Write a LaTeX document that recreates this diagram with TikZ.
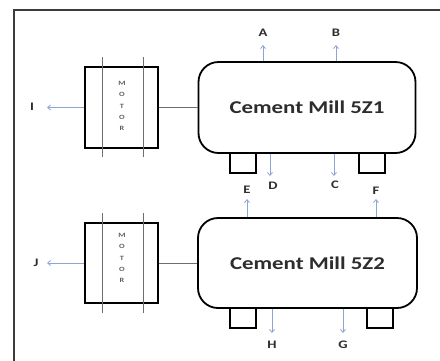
\documentclass[tikz,border=0pt]{standalone}
\usepackage{fontspec}
\setmainfont{Carlito}
\usetikzlibrary{arrows.meta,calc}
\definecolor{flowc}{RGB}{140,165,210}
\definecolor{framec}{RGB}{60,60,60}
\definecolor{lblc}{RGB}{45,45,45}
\definecolor{connc}{RGB}{110,110,110}
\newcommand{\wide}[1]{\scalebox{1.27}[1]{#1}}
\tikzset{
  mill/.style={draw=black,line width=1.8pt,rounded corners=20pt,minimum width=217pt,minimum height=91pt,inner sep=0pt,font=\bfseries\fontsize{18}{22}\selectfont,text=lblc},
  motorbox/.style={draw=black,line width=1.8pt,minimum width=73pt,minimum height=81pt,inner sep=0pt},
  motorbar/.style={draw=connc,line width=1pt},
  motortxt/.style={font=\bfseries\fontsize{6.5}{11.3}\selectfont,text={rgb,255:red,95;green,95;blue,95},align=center,inner sep=0pt},
  foot/.style={draw=black,line width=1.8pt},
  conn/.style={draw=connc,line width=1pt},
  flow/.style={draw=flowc,line width=0.8pt,-{Straight Barb[length=3pt,width=5pt]}},
  lbl/.style={font=\bfseries\fontsize{11.5}{14}\selectfont,text=lblc,inner sep=1pt},
}
\begin{document}
\begin{tikzpicture}[x=1pt,y=-1pt]
\useasboundingbox (0,0) rectangle (440,360);
% frame
\draw[framec,line width=1.5pt] (14,362) -- (14,10) -- (442,10);

% ---- Unit 1 ----
\node[mill] (mill1) at (307,107.5) {\wide{Cement Mill 5Z1}};
\node[motorbox] (motor1) at (121.5,107.5) {};
\node[motortxt] (mt1) at (122,106) {\wide{M}\\\wide{O}\\\wide{T}\\\wide{O}\\\wide{R}};
\draw[motorbar] (102,57) -- (102,157);
\draw[motorbar] (143,57) -- (143,157);
\draw[conn] (motor1.east) -- (mill1.west);
\draw[foot] (230,153) rectangle (256,173);
\draw[foot] (359,153) rectangle (385,173);

\node[lbl] (lI) at (32,107) {\wide{I}};
\coordinate (eI) at (47,107.5);
\draw[flow] (motor1.west) -- (eI);

\node[lbl] (lA) at (263,33) {\wide{A}};
\coordinate (eA) at (263,45);
\draw[flow] (eA |- mill1.north) -- (eA);
\node[lbl] (lB) at (336,33) {\wide{B}};
\coordinate (eB) at (336,45);
\draw[flow] (eB |- mill1.north) -- (eB);

\node[lbl] (lD) at (273,186) {\wide{D}};
\coordinate (eD) at (270,176);
\draw[flow] (eD |- mill1.south) -- (eD);
\node[lbl] (lC) at (335,185) {\wide{C}};
\coordinate (eC) at (334,176);
\draw[flow] (eC |- mill1.south) -- (eC);

% ---- Unit 2 ----
\node[mill,minimum width=219pt,minimum height=90pt] (mill2) at (307.5,263) {\wide{Cement Mill 5Z2}};
\node[motorbox,minimum height=80pt] (motor2) at (121.5,263) {};
\node[motortxt] (mt2) at (122,258) {\wide{M}\\\wide{O}\\\wide{T}\\\wide{O}\\\wide{R}};
\draw[motorbar] (102,213) -- (102,313);
\draw[motorbar] (143,213) -- (143,313);
\draw[conn] (motor2.east) -- (mill2.west);
\draw[foot] (230,308) rectangle (256,328);
\draw[foot] (367,308) rectangle (393,328);

\node[lbl] (lJ) at (36,263) {\wide{J}};
\coordinate (eJ) at (47,263);
\draw[flow] (motor2.west) -- (eJ);

\node[lbl] (lE) at (247,190) {\wide{E}};
\coordinate (eE) at (247,199);
\draw[flow] (eE |- mill2.north) -- (eE);
\node[lbl] (lF) at (376,191) {\wide{F}};
\coordinate (eF) at (376,199);
\draw[flow] (eF |- mill2.north) -- (eF);

\node[lbl] (lH) at (272,345) {\wide{H}};
\coordinate (eH) at (272,333);
\draw[flow] (eH |- mill2.south) -- (eH);
\node[lbl] (lG) at (343,345) {\wide{G}};
\coordinate (eG) at (343,333);
\draw[flow] (eG |- mill2.south) -- (eG);
\end{tikzpicture}
\end{document}
